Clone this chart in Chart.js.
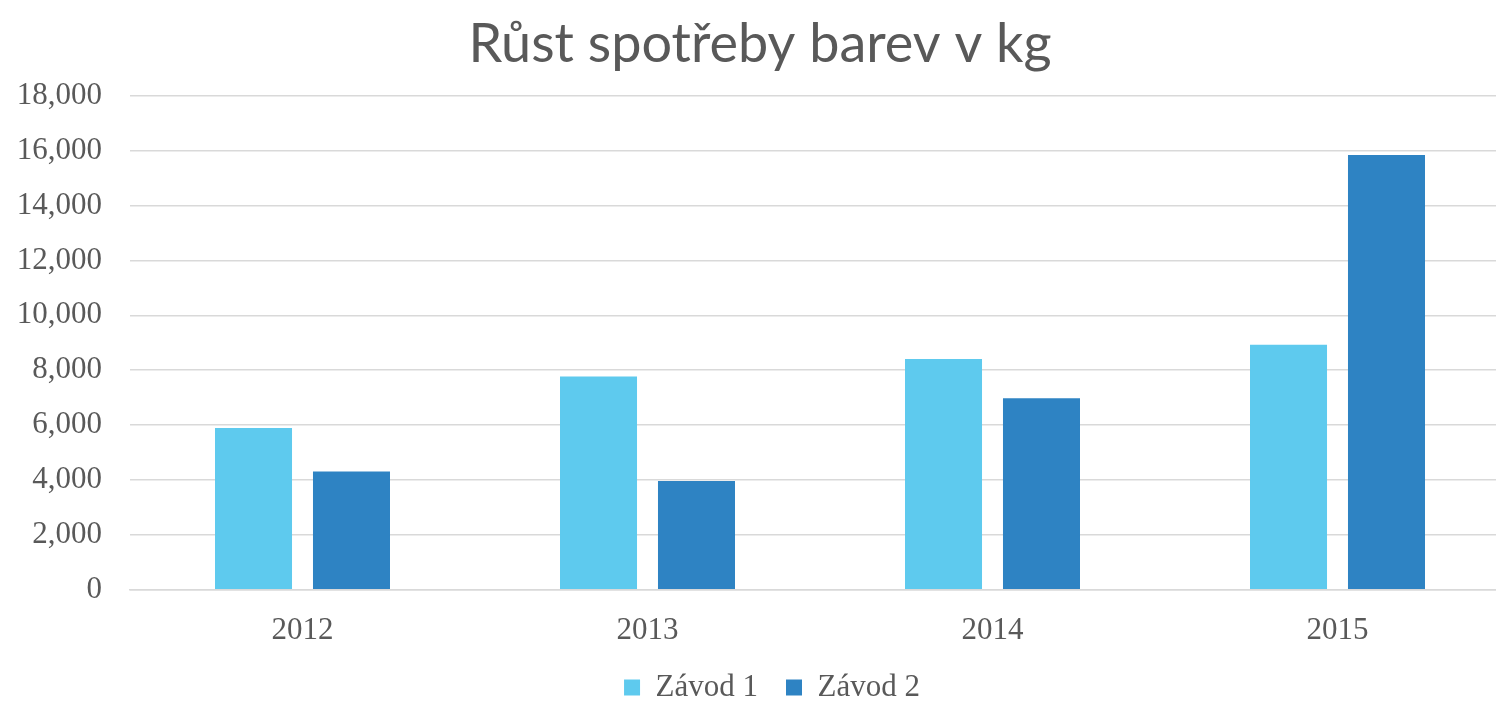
<!DOCTYPE html>
<html>
<head>
<meta charset="utf-8">
<script src="https://cdn.jsdelivr.net/npm/chart.js@4"></script>
<style>
    html, body { margin: 0; padding: 0; background: #fff; overflow: hidden; }
    .chart-wrap { width: 1528px; height: 702px; }
</style>
</head>
<body>
<div class="chart-wrap"><canvas id="paintChart"></canvas></div>
<script>
const years = ['2012', '2013', '2014', '2015'];
const zavod1 = [5900, 7770, 8410, 8930];
const zavod2 = [4310, 3960, 6980, 15840];
const yTicks = [0, 2000, 4000, 6000, 8000, 10000, 12000, 14000, 16000, 18000];

const textColor = '#595959';
const gridColor = '#d9d9d9';
const serif = '"Liberation Serif", "Times New Roman", serif';

// legend padding is wide for item spacing, so pull the row up a bit
const legendLift = {
    id: 'legendLift',
    afterInit: chart => {
        const legend = chart.legend;
        const draw = legend.draw.bind(legend);
        legend.draw = (...args) => {
            chart.ctx.save();
            chart.ctx.translate(12, -19);
            draw(...args);
            chart.ctx.restore();
        };
    }
};

new Chart(document.getElementById('paintChart'), {
    type: 'bar',
    data: {
        labels: years,
        datasets: [
            {
                label: 'Závod 1',
                data: zavod1,
                backgroundColor: '#5ecaee',
                categoryPercentage: 0.568,
                barPercentage: 0.786
            },
            {
                label: 'Závod 2',
                data: zavod2,
                backgroundColor: '#2e83c3',
                categoryPercentage: 0.568,
                barPercentage: 0.786
            }
        ]
    },
    options: {
        responsive: true,
        maintainAspectRatio: false,
        animation: false,
        layout: { padding: { left: 10, right: 18, top: 6, bottom: -30 } },
        plugins: {
            title: {
                display: true,
                text: 'Růst spotřeby barev v kg',
                color: textColor,
                font: { family: 'Lato, "Open Sans", sans-serif', size: 54, weight: 'normal' },
                padding: { top: 6, bottom: 19 }
            },
            legend: {
                position: 'bottom',
                labels: {
                    color: textColor,
                    font: { family: serif, size: 31 },
                    boxWidth: 16,
                    boxHeight: 16,
                    padding: 28
                }
            },
            tooltip: { enabled: false }
        },
        scales: {
            x: {
                grid: { display: false },
                border: { color: gridColor, width: 1.5 },
                ticks: {
                    color: textColor,
                    font: { family: serif, size: 31 },
                    padding: 14
                }
            },
            y: {
                min: 0,
                max: yTicks[yTicks.length - 1],
                afterBuildTicks: axis => {
                    axis.ticks = yTicks.map(value => ({ value }));
                },
                afterFit: axis => {
                    axis.width = 120;
                },
                grid: { color: gridColor, lineWidth: 1.5, drawTicks: false },
                border: { display: false },
                ticks: {
                    color: textColor,
                    font: { family: serif, size: 31 },
                    padding: 28,
                    callback: value => value.toLocaleString('en-US')
                }
            }
        }
    },
    plugins: [legendLift]
});
</script>
</body>
</html>
